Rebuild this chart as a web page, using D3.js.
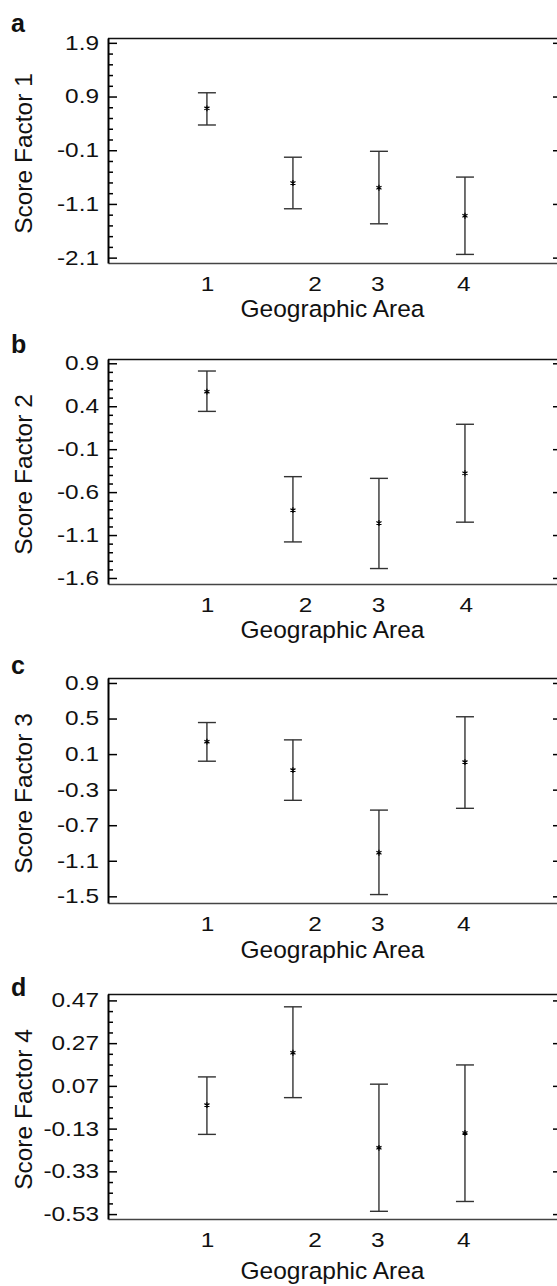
<!DOCTYPE html>
<html>
<head>
<meta charset="utf-8">
<script src="https://cdn.jsdelivr.net/npm/d3@7"></script>
<style>
body { margin: 0; background: #fff; }
svg text { font-family: "Liberation Sans", Arial, Helvetica, sans-serif; fill: #111; }
</style>
</head>
<body>
<svg id="chart" width="557" height="1286"></svg>
<script>
// x categories (geographic areas) and where the printed labels sit
var areas = [1, 2, 3, 4];
var xTickLabels = ["1", "2", "3", "4"];
var xTickPos = [1, 2.25, 2.98, 3.98];
var xTickPosB = [1, 2.14, 2.99, 4.01];

var letters = ["a", "b", "c", "d"];
var yTitles = ["Score Factor 1", "Score Factor 2", "Score Factor 3", "Score Factor 4"];
var xTitle = "Geographic Area";

// factor 1
var f1Mean = [0.68, -0.71, -0.80, -1.32];
var f1High = [0.97, -0.23, -0.12, -0.60];
var f1Low = [0.37, -1.19, -1.47, -2.04];
var f1Ticks = [1.9, 0.9, -0.1, -1.1, -2.1];
var f1Domain = [-2.2, 1.99];

// factor 2
var f2Mean = [0.57, -0.81, -0.96, -0.38];
var f2High = [0.81, -0.42, -0.44, 0.19];
var f2Low = [0.34, -1.18, -1.49, -0.95];
var f2Ticks = [0.9, 0.4, -0.1, -0.6, -1.1, -1.6];
var f2Domain = [-1.67, 0.95];

// factor 3
var f3Mean = [0.24, -0.08, -1.01, 0.01];
var f3High = [0.455, 0.26, -0.53, 0.52];
var f3Low = [0.02, -0.42, -1.48, -0.51];
var f3Ticks = [0.9, 0.5, 0.1, -0.3, -0.7, -1.1, -1.5];
var f3Domain = [-1.575, 0.956];

// factor 4
var f4Mean = [-0.02, 0.225, -0.22, -0.15];
var f4High = [0.112, 0.44, 0.078, 0.168];
var f4Low = [-0.157, 0.015, -0.517, -0.471];
var f4Ticks = [0.47, 0.27, 0.07, -0.13, -0.33, -0.53];
var f4Domain = [-0.553, 0.50];

var panels = [
    {mean: f1Mean, high: f1High, low: f1Low, ticks: f1Ticks, domain: f1Domain, xt: xTickPos, minor: 0.2},
    {mean: f2Mean, high: f2High, low: f2Low, ticks: f2Ticks, domain: f2Domain, xt: xTickPosB, minor: 0.1},
    {mean: f3Mean, high: f3High, low: f3Low, ticks: f3Ticks, domain: f3Domain, xt: xTickPos, minor: 0},
    {mean: f4Mean, high: f4High, low: f4Low, ticks: f4Ticks, domain: f4Domain, xt: xTickPos, minor: 0.05}
];

// layout
var left = 108, right = 557, h = 225;
var tops = [38, 359, 678, 994];
var letterY = [32, 353, 674, 996];
var titleOff = [54, 54, 55, 60];
var stretch = 1.22; // tick digits are drawn wide in the original

var svg = d3.select("#chart");
var x = d3.scaleLinear().domain([-0.15, 5.07]).range([left, right]);
var star = d3.symbol(d3.symbolAsterisk || d3.symbolCross, 24);

panels.forEach(function (p, i) {
    var g = svg.append("g").attr("transform", "translate(0," + tops[i] + ")");
    var y = d3.scaleLinear().domain(p.domain).range([h, 0]);

    // top frame line
    g.append("line")
        .attr("x1", left).attr("x2", right)
        .attr("y1", 0.5).attr("y2", 0.5)
        .attr("stroke", "#111").attr("stroke-width", 1.5);

    // bottom axis, labels only
    var xa = g.append("g").attr("transform", "translate(0," + h + ")")
        .call(d3.axisBottom(x).tickValues(p.xt).tickSize(0)
            .tickFormat(function (d, k) { return xTickLabels[k]; }));
    xa.select(".domain").attr("stroke", "#444").attr("stroke-width", 1.5);
    xa.selectAll("text")
        .attr("y", 28).attr("dy", null)
        .style("font-size", "20px")
        .attr("transform", "scale(" + stretch + ",1)");

    // left axis, ticks pointing inward
    var ya = g.append("g").attr("transform", "translate(" + left + ",0)")
        .call(d3.axisLeft(y).tickValues(p.ticks).tickSizeInner(-9).tickSizeOuter(0)
            .tickPadding(9).tickFormat(String));
    ya.select(".domain").attr("stroke", "#000").attr("stroke-width", 2);
    ya.selectAll(".tick line").attr("stroke", "#000").attr("stroke-width", 1.5);
    ya.selectAll("text")
        .attr("x", -9 / stretch)
        .style("font-size", "20px")
        .attr("transform", "scale(" + stretch + ",1)");

    // minor ticks
    if (p.minor > 0) {
        var lo = d3.min(p.ticks), hi = d3.max(p.ticks);
        var minors = d3.range(lo, hi + p.minor / 2, p.minor).filter(function (v) {
            return !p.ticks.some(function (t) { return Math.abs(t - v) < 1e-6; });
        });
        var ym = g.append("g").attr("transform", "translate(" + left + ",0)")
            .call(d3.axisLeft(y).tickValues(minors).tickSizeInner(-5).tickSizeOuter(0).tickFormat(""));
        ym.select(".domain").remove();
        ym.selectAll(".tick line").attr("stroke", "#000").attr("stroke-width", 1.5);
    }

    // short ticks on the right edge
    var yr = g.append("g").attr("transform", "translate(" + right + ",0)")
        .call(d3.axisRight(y).tickValues(p.ticks).tickSizeInner(-4).tickSizeOuter(0).tickFormat(""));
    yr.select(".domain").remove();
    yr.selectAll(".tick line").attr("stroke", "#000").attr("stroke-width", 1.5);

    // error bars
    var bars = g.selectAll(".bar").data(areas).enter().append("g").attr("class", "bar");
    bars.append("line")
        .attr("x1", function (d) { return x(d); })
        .attr("x2", function (d) { return x(d); })
        .attr("y1", function (d, k) { return y(p.high[k]); })
        .attr("y2", function (d, k) { return y(p.low[k]); })
        .attr("stroke", "#333").attr("stroke-width", 1.4);
    bars.append("line")
        .attr("x1", function (d) { return x(d) - 9; })
        .attr("x2", function (d) { return x(d) + 9; })
        .attr("y1", function (d, k) { return y(p.high[k]); })
        .attr("y2", function (d, k) { return y(p.high[k]); })
        .attr("stroke", "#333").attr("stroke-width", 1.4);
    bars.append("line")
        .attr("x1", function (d) { return x(d) - 9; })
        .attr("x2", function (d) { return x(d) + 9; })
        .attr("y1", function (d, k) { return y(p.low[k]); })
        .attr("y2", function (d, k) { return y(p.low[k]); })
        .attr("stroke", "#333").attr("stroke-width", 1.4);
    bars.append("path")
        .attr("d", star)
        .attr("transform", function (d, k) { return "translate(" + x(d) + "," + y(p.mean[k]) + ")"; })
        .attr("fill", "none").attr("stroke", "#000").attr("stroke-width", 1.2);

    // titles
    g.append("text")
        .attr("x", (left + right) / 2).attr("y", h + titleOff[i])
        .attr("text-anchor", "middle")
        .style("font-size", "24.5px")
        .text(xTitle);
    g.append("text")
        .attr("transform", "translate(32," + (h / 2 + 3) + ") rotate(-90)")
        .attr("text-anchor", "middle")
        .style("font-size", "24.5px")
        .text(yTitles[i]);

    svg.append("text")
        .attr("x", 11).attr("y", letterY[i])
        .style("font-size", "25px").style("font-weight", "bold")
        .text(letters[i]);
});
</script>
</body>
</html>
